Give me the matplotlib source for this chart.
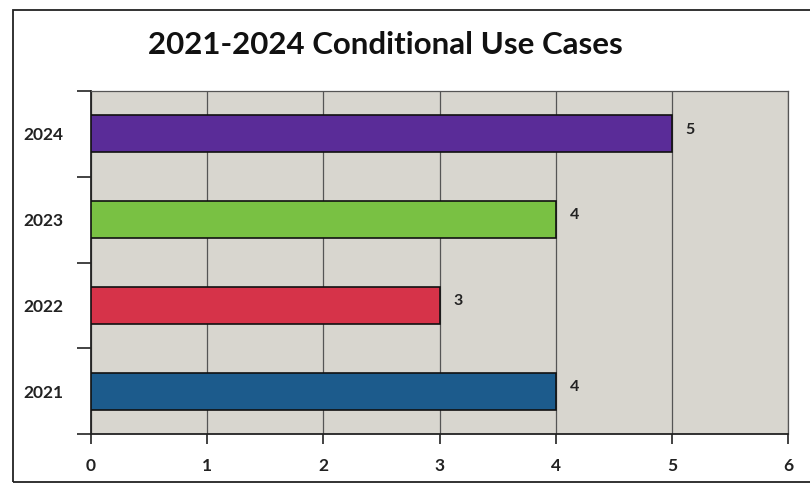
import matplotlib
matplotlib.use("Agg")
import matplotlib.pyplot as plt
from matplotlib.patches import Rectangle

years = ["2021", "2022", "2023", "2024"]
cases = [4, 3, 4, 5]
colors = ["#1c5b8c", "#d63349", "#79c143", "#5a2c98"]
x_ticks = [0, 1, 2, 3, 4, 5, 6]
title = "2021-2024 Conditional Use Cases"

plt.rcParams['font.family'] = ['Lato', 'DejaVu Sans']

W, H = 810, 487
fig = plt.figure(figsize=(W / 100, H / 100), dpi=100)
fig.patch.set_facecolor("white")

# outer frame (scanned page border)
fig.add_artist(Rectangle((13 / W, 1 - 482 / H), (W + 5 - 13) / W, (482 - 10) / H,
                         transform=fig.transFigure, fill=False, edgecolor="#222222",
                         linewidth=1.3, clip_on=False))

ax = fig.add_axes([91 / W, 1 - 434 / H, (788 - 91) / W, (434 - 91) / H])
ax.set_facecolor("#d8d6cf")
ypos = list(range(len(years)))
ax.barh(ypos, cases, height=0.43, color=colors, edgecolor="#111111", linewidth=1.2, zorder=3)
for y, v in zip(ypos, cases):
    ax.text(v + 0.12, y + 0.05, str(v), va="center", ha="left", fontsize=11.5,
            fontweight="bold", color="#222222")

ax.set_xlim(0, 6)
ax.set_ylim(-0.5, len(years) - 0.5)
ax.set_xticks(x_ticks)
ax.set_xticklabels([str(t) for t in x_ticks], fontsize=12.5, fontweight="bold", color="#222222")
ax.xaxis.grid(True, color="#555555", linewidth=0.9, zorder=1)
ax.set_axisbelow(True)

ax.set_yticks(ypos)
ax.set_yticklabels(years, fontsize=12.5, fontweight="bold", color="#222222")
ax.tick_params(axis="y", which="major", length=0, pad=20)
ax.set_yticks([i - 0.5 for i in range(len(years) + 1)], minor=True)
ax.tick_params(axis="y", which="minor", length=10, width=1.2, color="#222222", direction="out")
ax.tick_params(axis="x", length=7, width=1.2, color="#222222", direction="out", pad=10)

for s in ["left", "bottom"]:
    ax.spines[s].set_color("#222222")
    ax.spines[s].set_linewidth(1.3)
for s in ["top", "right"]:
    ax.spines[s].set_color("#555555")
    ax.spines[s].set_linewidth(0.9)

fig.text(385 / W, 1 - 45 / H, title, ha="center", va="center", fontsize=22.5,
         fontweight="bold", color="#111111")

fig.savefig("out.png", dpi=100)
